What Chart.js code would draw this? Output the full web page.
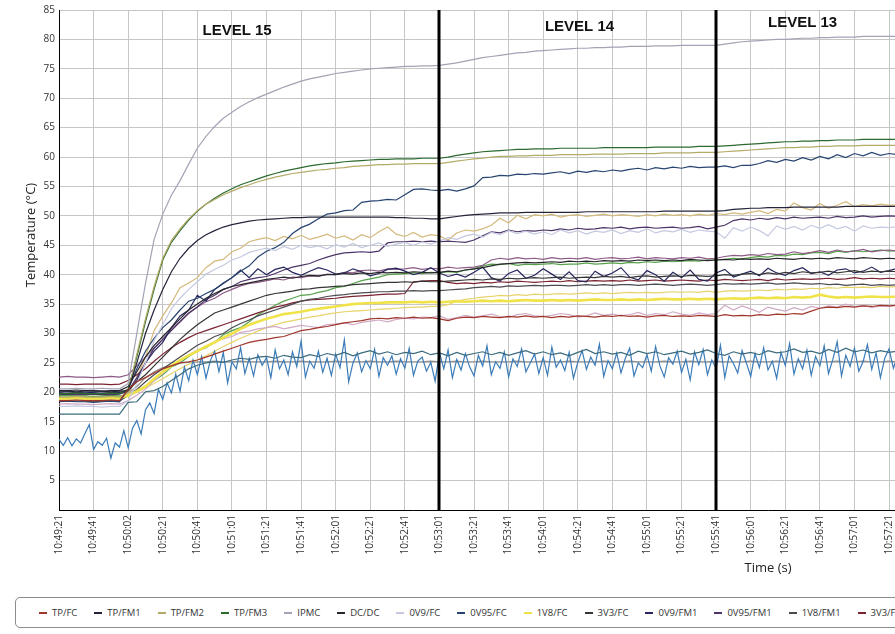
<!DOCTYPE html>
<html>
<head>
<meta charset="utf-8">
<script src="https://cdn.jsdelivr.net/npm/chart.js@4.4.1/dist/chart.umd.min.js"></script>
<style>
html, body { margin: 0; padding: 0; background: #fff; overflow: hidden; width: 895px; height: 634px; }
#wrap { position: absolute; left: 0; top: 0; width: 1494px; height: 590px; }
#legend { position: absolute; left: 15px; top: 597px; width: 1500px; height: 31px; box-sizing: border-box;
  border: 1px solid #8c8c8c; border-radius: 5px; display: flex; align-items: center; padding-left: 23px;
  white-space: nowrap; font: 9.5px "Open Sans", sans-serif; color: #333; }
#legend .item { display: inline-flex; align-items: center; margin-right: 17px; }
#legend .item i { display: inline-block; width: 8px; height: 2px; margin-right: 5px; }
</style>
</head>
<body>
<div id="wrap"><canvas id="c" width="1494" height="590"></canvas></div>
<div id="legend"></div>
<script>
// x axis: seconds since 10:49:21, one label every 20 s
const tickLabels = ['10:49:21','10:49:41','10:50:02','10:50:21','10:50:41','10:51:01','10:51:21','10:51:41',
  '10:52:01','10:52:21','10:52:41','10:53:01','10:53:21','10:53:41','10:54:01','10:54:21','10:54:41',
  '10:55:01','10:55:21','10:55:41','10:56:01','10:56:21','10:56:41','10:57:01','10:57:21','10:57:41',
  '10:58:01','10:58:21','10:58:41','10:59:01','10:59:21','10:59:41','11:00:01','11:00:21','11:00:41',
  '11:01:01','11:01:21','11:01:41','11:02:01','11:02:21','11:02:41','11:03:01'];
const tickStep = 20;
const coarseStep = 5;   // most sensors: one sample every 5 s
const fineStep = 2.5;   // 0V95/FM3: one sample every 2.5 s

const levelNames = ['LEVEL 15', 'LEVEL 14', 'LEVEL 13'];
const levelLabelSecs = [103, 301, 430];
const levelLabelTemps = [81.5, 82.1, 82.8];
const levelChangeSecs = [220, 380];

const seriesLabels = ['TP/FC','TP/FM1','TP/FM2','TP/FM3','IPMC','DC/DC','0V9/FC','0V95/FC','1V8/FC','3V3/FC',
  '0V9/FM1','0V95/FM1','1V8/FM1','3V3/FM1','0V9/FM2','0V95/FM2','1V8/FM2','3V3/FM2',
  '0V9/FM3','0V95/FM3','1V8/FM3','3V3/FM3'];
const seriesColors = ['#a0362a','#24243a','#b4ab68','#2d6a30','#a3a3b5','#26262c','#c5c9e0','#284470','#f0e34a','#353535',
  '#27275e','#4d3468','#4b4b52','#7a2331','#d0aac6','#8e5a86','#d4b97b','#56a24a',
  '#3b6b7d','#3a7bb8','#e8d36c','#8f8f8f'];

const tpFc = [18.6,18.6,18.7,18.6,18.6,18.6,18.7,18.6, 20.5,21.8,22.5,23.3,24.0,24.5,25.0,25.2,
  25.5,26.0,26.5,27.0,27.5,28.0,28.5,28.8, 29.0,29.3,29.5,30.0,30.5,30.7,31.0,31.2,
  31.5,31.8,32.0,32.2,32.5,32.6,32.5,32.7, 32.6,32.8,32.6,32.7,32.5,32.2,32.6,32.8,
  32.7,32.9,32.8,32.7,32.9,32.8,33.0,32.8, 32.9,32.7,32.9,32.8,33.0,32.9,32.8,33.0,
  32.9,33.1,32.9,33.0,32.8,33.0,33.1,32.9, 33.0,32.9,33.1,33.0,32.9,33.2,33.0,33.1,
  33.0,33.2,33.1,33.3,33.2,33.4,33.3,33.8, 34.3,34.5,34.4,34.6,34.5,34.7,34.6,34.8, 34.7,34.8];
const tpFm1 = [20.2,20.2,20.1,20.2,20.2,20.2,20.1,20.2, 20.3,25.0,30.0,34.0,37.5,40.5,42.8,44.5,
  45.8,46.8,47.5,48.1,48.5,48.8,49.1,49.3, 49.4,49.5,49.6,49.7,49.7,49.8,49.8,49.8,
  49.8,49.8,49.8,49.8,49.8,49.8,49.8,49.7, 49.7,49.6,49.6,49.5,49.5,49.7,49.9,50.1,
  50.2,50.3,50.4,50.5,50.5,50.5,50.6,50.6, 50.6,50.6,50.6,50.6,50.6,50.7,50.7,50.7,
  50.7,50.7,50.7,50.7,50.7,50.7,50.8,50.8, 50.8,50.8,50.8,50.8,50.8,50.9,51.1,51.2,
  51.3,51.3,51.4,51.4,51.4,51.5,51.5,51.5, 51.5,51.5,51.5,51.6,51.6,51.6,51.6,51.6, 51.6,51.6];
const tpFm2 = [19.2,19.2,19.3,19.2,19.2,19.2,19.3,19.2, 20.0,26.5,32.5,38.0,42.8,45.8,47.8,49.5,
  50.9,52.0,52.8,53.6,54.2,54.8,55.3,55.8, 56.2,56.6,56.9,57.2,57.4,57.6,57.8,57.9,
  58.1,58.2,58.4,58.5,58.6,58.7,58.7,58.8, 58.8,58.9,58.9,58.9,58.9,59.1,59.3,59.5,
  59.7,59.8,60.0,60.1,60.1,60.2,60.2,60.3, 60.3,60.3,60.4,60.4,60.4,60.4,60.5,60.5,
  60.5,60.5,60.6,60.6,60.6,60.6,60.7,60.7, 60.7,60.7,60.8,60.8,60.8,60.9,61.0,61.1,
  61.2,61.3,61.4,61.5,61.6,61.6,61.7,61.7, 61.8,61.8,61.9,61.9,61.9,62.0,62.0,62.0, 62.0,62.0];
const tpFm3 = [19.8,19.8,19.9,19.8,19.8,19.8,19.9,19.8, 20.5,26.0,32.0,37.5,42.5,45.5,47.5,49.3,
  50.8,52.0,53.0,53.9,54.6,55.3,55.8,56.3, 56.8,57.2,57.6,57.9,58.2,58.5,58.7,58.9,
  59.0,59.2,59.3,59.4,59.5,59.6,59.6,59.7, 59.7,59.7,59.8,59.8,59.8,60.0,60.3,60.5,
  60.7,60.9,61.0,61.1,61.2,61.3,61.3,61.4, 61.4,61.4,61.5,61.5,61.5,61.5,61.5,61.6,
  61.6,61.6,61.6,61.6,61.6,61.7,61.7,61.7, 61.7,61.7,61.8,61.8,61.8,61.9,62.0,62.1,
  62.2,62.3,62.4,62.5,62.6,62.6,62.7,62.7, 62.8,62.8,62.9,62.9,62.9,63.0,63.0,63.0, 63.0,63.0];
const ipmc = [20.6,20.6,20.7,20.6,20.6,20.7,20.6,20.6, 21.5,30.0,38.5,46.0,50.3,53.5,56.0,58.8,
  61.5,63.5,65.2,66.6,67.6,68.6,69.4,70.1, 70.7,71.3,71.9,72.4,72.9,73.3,73.6,73.9,
  74.2,74.4,74.6,74.8,75.0,75.1,75.2,75.3, 75.4,75.4,75.5,75.5,75.6,75.8,76.0,76.3,
  76.6,76.9,77.1,77.3,77.5,77.7,77.8,78.0, 78.1,78.2,78.3,78.4,78.5,78.5,78.6,78.6,
  78.7,78.7,78.8,78.8,78.8,78.9,78.9,78.9, 79.0,79.0,79.0,79.0,79.0,79.2,79.4,79.6,
  79.7,79.8,79.9,80.0,80.0,80.1,80.2,80.2, 80.3,80.3,80.4,80.4,80.4,80.5,80.5,80.5, 80.5,80.5];
const dcDc = [20.3,20.3,20.4,20.3,20.3,20.2,20.3,20.3, 21.0,23.5,26.0,28.0,29.5,31.0,32.5,34.0,
  35.0,36.0,36.8,37.5,38.0,38.3,38.6,38.9, 39.2,39.4,39.6,39.4,39.7,39.9,39.8,40.0,
  40.0,40.2,40.1,40.3,40.2,40.4,40.3,40.4, 40.3,40.5,40.4,40.3,40.4,40.6,40.5,40.8,
  41.0,41.2,41.5,41.8,41.9,42.0,42.1,42.0, 42.1,42.2,42.1,42.3,42.2,42.3,42.2,42.4,
  42.3,42.4,42.3,42.5,42.4,42.5,42.4,42.5, 42.4,42.6,42.5,42.4,42.5,42.6,42.5,42.7,
  42.6,42.7,42.6,42.8,42.7,42.6,42.8,42.7, 42.8,42.7,42.9,42.8,42.7,42.9,42.8,42.7, 42.8,42.7];
const v09Fc = [17.6,17.6,17.7,17.6,17.6,17.5,17.6,17.6, 18.6,21.5,25.0,28.8,31.5,34.2,36.0,37.5,
  38.8,40.1,40.9,41.6,42.5,43.0,43.8,44.2, 44.5,44.1,44.8,44.3,45.0,44.6,44.9,44.4,
  45.1,44.7,45.3,44.6,45.0,45.4,44.8,45.2, 45.5,45.0,45.6,45.2,45.7,46.3,46.0,46.6,
  46.9,46.4,47.2,46.8,47.5,47.0,47.4,46.9, 47.3,46.8,47.6,47.1,47.5,46.9,47.4,47.2,
  47.6,47.0,47.5,47.2,47.8,47.1,47.5,47.3, 47.7,47.2,47.6,47.4,47.3,46.2,48.0,47.4,
  48.1,47.5,46.6,48.3,47.7,48.2,47.6,48.4, 47.9,48.5,47.8,48.2,47.4,48.3,47.9,48.1, 48.0,48.2];
const v095Fc = [18.4,18.5,18.4,18.4,18.3,18.4,18.5,18.4, 20.5,24.0,27.0,29.2,31.0,32.3,34.0,35.5,
  36.0,36.8,37.5,38.6,39.5,40.6,41.5,43.0, 44.0,44.6,45.5,47.0,48.0,48.6,49.5,50.3,
  50.5,50.9,51.0,52.3,52.5,52.6,52.8,52.7, 53.6,54.5,54.6,54.4,54.3,54.5,54.2,54.6,
  55.1,56.5,56.6,56.9,56.8,57.1,57.0,57.2, 57.1,57.3,57.5,57.2,57.6,57.4,57.7,57.5,
  57.8,57.6,57.9,58.1,57.8,58.2,58.0,58.3, 58.1,58.4,58.2,58.3,58.3,58.5,58.2,58.6,
  58.6,58.9,59.4,59.1,59.6,59.3,59.9,59.5, 60.1,59.7,60.4,59.9,60.6,60.2,60.8,60.3, 60.6,60.4];
const v18Fc = [19.0,19.0,19.1,19.0,19.0,19.0,19.1,19.0, 19.5,20.2,21.0,22.3,23.5,24.5,25.5,26.3,
  27.0,27.8,28.5,29.3,30.0,30.8,31.5,32.0, 32.5,32.9,33.3,33.5,33.7,34.0,34.2,34.4,
  34.6,34.8,35.0,35.1,35.2,35.2,35.3,35.3, 35.3,35.4,35.3,35.4,35.3,35.4,35.5,35.4,
  35.5,35.6,35.5,35.6,35.5,35.6,35.7,35.6, 35.6,35.7,35.6,35.7,35.6,35.7,35.8,35.7,
  35.7,35.8,35.7,35.8,35.7,35.8,35.9,35.8, 35.8,35.9,35.8,35.9,35.8,35.9,36.0,35.9,
  36.0,36.1,36.0,36.1,36.0,36.2,36.1,36.2, 36.6,36.3,36.1,36.2,36.1,36.2,36.3,36.2, 36.2,36.3];
const v33Fc = [19.8,19.8,19.9,19.8,19.8,19.8,19.9,19.8, 20.5,21.8,23.0,24.5,26.0,27.5,29.0,30.3,
  31.5,32.5,33.5,34.0,34.5,35.0,35.5,36.0, 36.5,36.8,37.0,37.2,37.5,37.6,37.8,37.9,
  38.0,38.1,38.3,38.4,38.5,38.6,38.7,38.7, 38.8,38.7,38.9,38.8,38.8,38.9,39.0,39.1,
  39.2,39.1,39.3,39.2,39.4,39.3,39.4,39.5, 39.4,39.5,39.6,39.4,39.5,39.6,39.5,39.7,
  39.6,39.7,39.5,39.7,39.8,39.6,39.7,39.8, 39.7,39.9,39.8,39.7,39.8,40.0,39.9,40.1,
  40.2,40.0,40.3,40.1,40.4,40.2,40.5,40.3, 40.4,40.6,40.3,40.5,40.7,40.4,40.6,40.5, 40.6,40.5];
const v09Fm1 = [20.0,20.1,20.0,19.9,20.0,20.1,20.0,20.0, 20.2,22.0,25.0,27.0,28.5,31.0,33.0,34.0,
  36.5,35.5,37.5,38.5,39.5,40.8,39.5,41.0, 40.0,40.9,41.3,40.4,39.9,40.6,41.2,40.8,
  40.1,40.3,41.0,40.5,39.8,40.2,40.9,41.1, 40.6,40.0,40.4,41.2,40.3,39.7,40.1,39.6,
  40.4,41.3,39.5,38.9,40.2,40.8,39.4,39.9, 41.0,40.1,39.2,40.5,39.0,38.8,40.6,39.7,
  40.3,41.2,39.6,39.1,40.7,40.0,38.9,40.4, 39.5,40.8,39.2,38.9,40.3,40.9,39.6,40.1,
  40.6,39.8,41.1,40.3,39.9,40.7,41.2,40.2, 40.5,39.9,40.8,41.0,40.3,40.6,41.3,40.4, 40.7,41.1];
const v095Fm1 = [19.6,19.7,19.6,19.6,19.7,19.6,19.6,19.7, 20.2,22.5,25.0,27.5,29.0,30.5,32.0,33.5,
  34.5,35.8,36.5,37.5,38.0,38.8,39.2,39.5, 39.7,40.2,40.8,41.3,41.6,41.9,42.5,43.0,
  43.4,43.7,43.8,43.9,43.8,44.0,45.4,45.6, 45.6,45.7,45.6,45.7,45.6,45.7,45.6,45.5,
  45.9,46.6,47.3,47.1,47.6,47.3,47.5,47.4, 47.6,47.5,47.8,47.6,47.9,47.7,47.8,48.0,
  47.9,48.1,47.8,48.0,48.1,47.9,48.0,48.1, 47.9,48.0,48.2,47.8,48.1,48.4,49.2,49.5,
  49.3,49.6,49.4,49.7,49.5,49.8,49.6,49.7, 49.8,49.6,49.9,49.7,49.8,50.0,49.8,49.9, 50.0,49.9];
const v18Fm1 = [18.5,18.6,18.5,18.5,18.4,18.5,18.6,18.5, 19.5,20.5,21.8,23.0,24.0,25.0,26.0,27.0,
  28.0,28.7,29.5,30.0,31.0,31.7,32.3,33.0, 33.5,34.0,34.5,35.0,35.5,35.8,36.0,36.3,
  36.5,36.6,36.8,36.9,37.0,37.1,37.1,37.2, 37.2,37.3,37.2,37.3,37.3,37.4,37.5,37.6,
  37.8,37.9,38.0,37.9,38.1,38.0,38.1,38.2, 38.1,38.2,38.2,38.1,38.2,38.3,38.2,38.3,
  38.2,38.3,38.3,38.2,38.3,38.4,38.3,38.2, 38.3,38.4,38.3,38.2,38.3,38.5,38.4,38.5,
  38.4,38.5,38.6,38.4,38.5,38.6,38.5,38.4, 38.5,38.3,38.4,38.2,38.3,38.4,38.2,38.3, 38.2,38.3];
const v33Fm1 = [21.4,21.4,21.3,21.4,21.4,21.4,21.3,21.4, 22.0,23.0,24.0,25.3,26.5,27.6,28.5,29.3,
  30.0,30.5,31.0,31.5,32.0,32.5,33.0,33.5, 34.0,34.5,34.8,35.2,35.5,35.7,35.8,35.9,
  36.0,36.2,36.3,36.4,36.5,36.6,36.7,36.7, 36.8,38.8,38.9,39.0,39.0,38.7,38.5,38.6,
  38.5,38.7,38.6,38.8,38.7,38.9,38.8,38.7, 38.8,38.9,38.8,39.0,38.8,38.9,39.0,38.9,
  39.0,38.9,39.1,38.9,39.0,39.1,38.9,39.0, 39.1,39.0,38.9,39.1,39.0,39.2,39.1,39.0,
  39.1,39.2,39.0,39.3,39.1,39.2,39.3,39.2, 39.3,39.4,39.2,39.3,39.5,39.3,39.4,39.3, 39.4,39.3];
const v09Fm2 = [18.0,18.1,18.0,18.0,17.9,18.0,18.1,18.0, 18.6,19.5,20.5,22.0,23.2,24.5,25.3,26.4,
  27.2,27.8,28.6,29.1,29.5,30.2,30.4,30.8, 31.0,31.2,30.8,31.1,31.4,31.2,31.0,31.5,
  31.6,31.8,31.5,31.9,32.1,32.3,32.0,32.4, 32.6,32.5,32.8,32.7,33.0,32.4,32.7,33.1,
  32.8,33.0,33.3,32.9,32.7,33.2,33.4,33.0, 32.9,33.1,33.4,33.2,32.8,33.0,33.5,33.1,
  33.3,33.0,33.2,33.6,33.1,33.4,33.2,33.7, 33.3,33.1,33.5,33.2,33.4,34.8,34.0,34.7,
  34.2,33.6,34.5,34.1,33.8,34.4,34.0,34.6, 34.3,34.7,34.5,35.0,34.6,34.8,34.4,34.7, 34.6,34.9];
const v095Fm2 = [22.6,22.7,22.6,22.6,22.5,22.6,22.7,22.6, 23.0,24.5,26.0,27.5,29.0,30.8,32.0,33.4,
  34.5,35.4,36.0,36.9,37.5,38.1,38.5,38.7, 39.0,39.3,39.1,39.6,39.5,39.8,39.7,40.1,
  40.0,40.4,40.3,40.7,40.8,40.6,41.0,40.9, 41.0,41.2,40.9,41.1,41.0,41.3,41.1,41.2,
  41.3,41.6,42.5,42.8,42.6,42.9,42.7,42.8, 42.6,42.9,42.7,42.8,42.7,42.9,42.6,42.8,
  42.9,42.7,42.8,43.0,42.7,42.9,42.8,42.7, 42.9,42.8,43.0,42.7,42.8,43.1,43.3,43.2,
  43.4,43.3,43.6,43.4,43.5,43.9,43.6,43.8, 44.1,43.8,44.2,43.9,44.0,44.3,43.9,44.1, 44.2,44.0];
const v18Fm2 = [19.0,19.1,19.0,19.0,19.1,19.0,19.0,19.1, 19.6,22.5,26.0,30.5,33.0,35.2,37.8,38.6,
  39.5,41.2,42.3,42.6,43.9,44.5,45.6,46.0, 46.3,45.8,46.5,46.1,46.7,46.0,46.4,46.9,
  46.2,46.6,45.9,46.8,46.3,47.3,48.1,46.9, 46.5,47.2,46.4,46.8,46.6,45.9,47.1,47.6,
  47.4,47.8,48.4,49.6,48.8,50.1,49.5,50.2, 50.0,50.3,49.8,50.1,50.2,49.9,50.1,50.3,
  50.0,50.2,50.1,49.9,50.2,50.0,50.3,50.1, 50.2,50.0,50.3,50.1,50.4,50.2,50.5,50.3,
  50.6,50.9,50.4,51.1,50.8,52.2,51.4,51.0, 52.1,51.3,51.8,52.4,51.6,51.9,51.7,52.0, 51.8,51.9];
const v33Fm2 = [19.4,19.5,19.4,19.4,19.3,19.4,19.5,19.4, 19.5,20.2,21.0,22.0,23.0,24.3,25.0,26.1,
  27.0,27.6,28.5,29.8,30.5,31.0,32.0,33.2, 34.0,34.8,35.5,36.0,36.5,36.6,37.0,37.3,
  37.8,38.0,38.5,39.0,39.3,39.6,40.0,40.1, 40.2,40.3,40.2,40.4,40.3,40.5,40.4,40.8,
  41.0,41.5,41.8,41.7,41.9,41.6,41.8,41.7, 41.8,41.9,41.7,41.8,41.8,42.0,41.8,41.9,
  42.0,41.9,42.1,42.0,42.2,42.1,42.3,42.2, 42.3,42.4,42.3,42.5,42.5,42.6,42.8,42.7,
  42.9,43.1,43.0,43.3,43.2,43.5,43.4,43.7, 43.8,43.6,44.0,43.8,44.1,43.9,44.0,44.2, 44.0,44.1];
const v09Fm3 = [16.3,16.3,16.3,16.3,16.3,16.3,16.3,16.3, 18.3,18.4,20.1,20.3,21.0,22.0,23.0,24.0,
  24.6,25.0,25.2,25.1,25.5,25.8,25.6,26.0, 26.1,25.8,26.3,26.0,25.9,26.4,26.1,26.6,
  26.3,26.8,26.2,26.7,27.1,26.5,26.9,26.4, 26.8,26.6,27.0,26.4,26.7,26.2,26.8,26.3,
  26.6,26.9,26.4,26.8,26.3,26.7,27.1,26.5, 26.9,26.4,26.7,26.2,26.8,27.3,26.6,26.9,
  26.5,26.8,26.3,27.0,26.6,26.9,26.4,26.7, 27.0,26.5,26.8,27.2,26.6,26.3,26.9,26.5,
  26.8,26.4,27.1,26.7,26.9,27.4,26.8,27.0, 26.6,27.3,26.8,27.5,26.9,27.2,26.7,27.1, 26.8,27.0];
const v095Fm3 = [12.0,11.0,12.3,10.9,12.1,11.4,13.0,14.5,10.3,11.6,11.0,12.2,8.8,11.4,10.7,13.5,
  10.6,13.9,15.2,12.9,17.0,18.2,16.4,20.5,18.8,21.6,19.9,23.1,20.2,24.3,22.0,25.5,
  23.0,26.1,22.4,25.4,27.0,23.5,26.8,21.6,25.2,24.0,27.6,23.2,25.8,22.8,26.4,24.6,
  25.9,22.5,27.2,24.0,25.5,23.0,26.9,24.4,28.7,22.6,25.3,24.1,27.0,23.4,25.8,22.9,
  26.5,24.2,28.9,21.8,25.0,26.7,23.5,25.4,24.0,27.3,22.7,25.9,24.6,26.2,23.1,25.7,
  24.1,27.5,22.9,25.3,26.0,23.6,25.1,21.9,26.8,24.0,27.2,22.5,25.6,23.8,26.6,24.3,
  22.8,26.3,24.5,27.9,23.0,25.2,24.1,26.9,22.6,25.7,24.4,27.4,23.5,25.0,26.5,23.2,
  25.9,22.9,27.7,24.3,25.5,23.7,26.8,22.4,25.1,27.1,23.9,26.0,24.6,28.2,22.7,25.4,
  24.0,26.7,23.3,25.8,27.5,22.8,25.0,24.2,26.4,23.6,27.8,24.5,22.6,25.9,24.8,27.0,
  23.4,25.6,22.1,26.9,24.7,27.3,23.0,25.5,24.1,28.0,22.5,26.2,24.9,23.3,27.1,25.0,
  22.7,26.6,24.2,27.6,23.8,25.3,22.4,26.8,24.6,28.3,23.1,25.7,24.0,27.2,22.9,26.1,
  24.5,27.9,23.2,25.6,28.6,22.8,26.3,24.4,27.5,23.6,25.2,28.1,23.9,26.7,22.5,25.8,
  27.4,24.1,26.2];
const v18Fm3 = [18.8,18.8,18.9,18.8,18.8,18.8,18.9,18.8, 19.3,20.0,20.8,21.5,22.3,23.2,24.0,24.8,
  25.5,26.2,27.0,27.8,28.5,29.2,29.8,30.4, 31.0,31.5,31.9,32.2,32.5,32.8,33.0,33.3,
  33.5,33.7,33.8,33.9,34.0,34.1,34.2,34.3, 34.4,34.5,34.5,34.6,34.6,34.9,35.5,35.8,
  36.0,36.2,36.3,36.5,36.4,36.6,36.5,36.7, 36.6,36.7,36.8,36.7,36.8,36.9,36.8,36.9,
  36.8,36.9,37.0,36.9,37.0,36.9,37.0,37.1, 37.0,37.1,37.0,37.2,37.0,37.2,37.3,37.2,
  37.3,37.4,37.3,37.5,37.4,37.6,37.5,37.7, 37.6,37.8,37.7,37.9,37.8,37.9,37.8,38.0, 37.9,38.0];
const v33Fm3 = [19.2,19.2,19.3,19.2,19.2,19.2,19.3,19.2, 19.8,21.0,22.5,23.5,24.2,24.6,25.0,25.1,
  25.2,25.2,25.3,25.2,25.2,25.3,25.2,25.2, 25.2,25.3,25.2,25.2,25.3,25.2,25.2,25.2,
  25.3,25.2,25.2,25.2,25.3,25.2,25.2,25.3, 25.2,25.2,25.2,25.3,25.2,25.2,25.3,25.2,
  25.2,25.3,25.2,25.2,25.2,25.3,25.2,25.2, 25.3,25.2,25.2,25.3,25.2,25.2,25.2,25.3,
  25.2,25.2,25.3,25.2,25.2,25.2,25.3,25.2, 25.2,25.3,25.2,25.2,25.3,25.2,25.2,25.2,
  25.3,25.2,25.2,25.3,25.2,25.2,25.3,25.2, 25.2,25.2,25.3,25.2,25.2,25.3,25.2,25.2, 25.3,25.2];

const seriesValues = [tpFc, tpFm1, tpFm2, tpFm3, ipmc, dcDc, v09Fc, v095Fc, v18Fc, v33Fc,
  v09Fm1, v095Fm1, v18Fm1, v33Fm1, v09Fm2, v095Fm2, v18Fm2, v33Fm2,
  v09Fm3, v095Fm3, v18Fm3, v33Fm3];

const FONT = '"Open Sans", "DejaVu Sans", sans-serif';
Chart.defaults.font.family = FONT;

const datasets = seriesLabels.map((label, k) => {
	const vals = seriesValues[k];
	const step = vals.length > 120 ? fineStep : coarseStep;
	return {
		label: label,
		data: vals.map((v, i) => ({ x: i * step, y: v })),
		borderColor: seriesColors[k],
		backgroundColor: seriesColors[k],
		borderWidth: label === '1V8/FC' ? 2.6 : 1.2,
		pointRadius: 0,
		tension: 0,
		fill: false,
	};
});

// black level-change lines, LEVEL captions and the y title (sits a bit above centre)
const levelPlugin = {
	id: 'levels',
	afterDatasetsDraw(chart) {
		const { ctx, chartArea, scales: { x, y } } = chart;
		ctx.save();
		ctx.strokeStyle = '#000';
		ctx.lineWidth = 3;
		levelChangeSecs.forEach(s => {
			const px = Math.round(x.getPixelForValue(s));
			ctx.beginPath();
			ctx.moveTo(px, chartArea.top);
			ctx.lineTo(px, chartArea.bottom);
			ctx.stroke();
		});
		ctx.fillStyle = '#111';
		ctx.font = 'bold 15px "Liberation Sans", Arial, sans-serif';
		ctx.textAlign = 'center';
		ctx.textBaseline = 'middle';
		levelNames.forEach((n, i) => {
			ctx.fillText(n, x.getPixelForValue(levelLabelSecs[i]), y.getPixelForValue(levelLabelTemps[i]));
		});

		ctx.translate(31, chartArea.top + (chartArea.bottom - chartArea.top) * 0.45);
		ctx.rotate(-Math.PI / 2);
		ctx.fillStyle = '#222';
		ctx.font = '13px ' + FONT;
		ctx.fillText('Temperature (°C)', 0, 0);
		ctx.restore();
	}
};

new Chart(document.getElementById('c'), {
	type: 'line',
	data: { datasets: datasets },
	options: {
		responsive: false,
		animation: false,
		layout: { padding: { top: 8, right: 7, left: 0, bottom: 0 } },
		plugins: { legend: { display: false }, tooltip: { enabled: false } },
		scales: {
			x: {
				type: 'linear',
				min: 0,
				max: (tickLabels.length - 1) * tickStep,
				afterBuildTicks: s => { s.ticks = tickLabels.map((_, i) => ({ value: i * tickStep })); },
				afterFit: s => { s.height = 80; },
				ticks: {
					autoSkip: false, minRotation: 90, maxRotation: 90, padding: 5,
					color: '#333', font: { size: 10 },
					callback: (v, i) => tickLabels[i],
				},
				grid: { color: '#c6c6c6', drawTicks: false },
				border: { color: '#000', width: 1 },
				title: { display: true, text: 'Time (s)', color: '#222', font: { size: 13 }, padding: { top: 0, bottom: 14 } },
			},
			y: {
				min: 0,
				max: 85,
				afterFit: s => { s.width = 59; },
				ticks: { stepSize: 5, padding: 4, color: '#333', font: { size: 10 }, callback: v => v === 0 ? '' : v },
				grid: { color: '#c6c6c6', drawTicks: false },
				border: { color: '#000', width: 1 },
			},
		},
	},
	plugins: [levelPlugin],
});

// html legend, one row, clipped at the right like the original
const legend = document.getElementById('legend');
seriesLabels.forEach((label, k) => {
	const item = document.createElement('span');
	item.className = 'item';
	const swatch = document.createElement('i');
	swatch.style.background = seriesColors[k];
	item.appendChild(swatch);
	item.appendChild(document.createTextNode(label));
	legend.appendChild(item);
});
</script>
</body>
</html>
